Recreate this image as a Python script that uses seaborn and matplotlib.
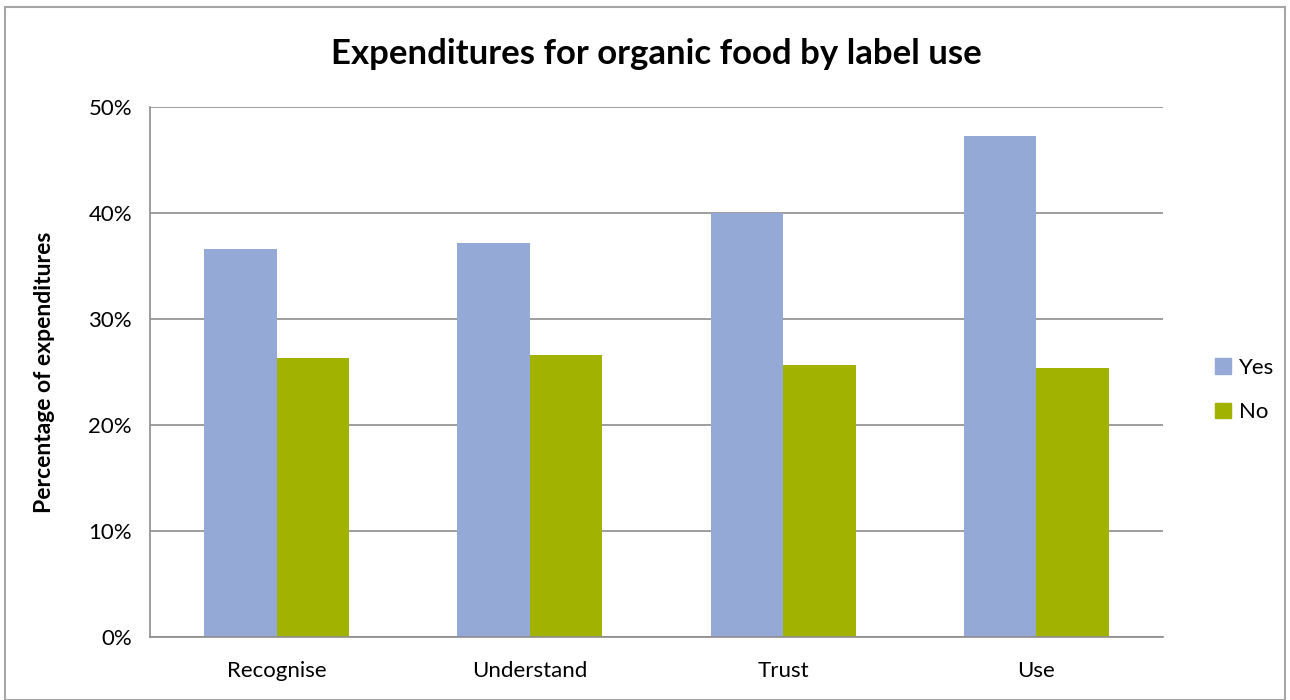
import pandas as pd
import numpy as np
import seaborn as sns
import matplotlib.pyplot as plt
from matplotlib.ticker import PercentFormatter, FixedLocator
from matplotlib.patches import Rectangle

categories = ["Recognise", "Understand", "Trust", "Use"]
yes_vals = [36.6, 37.2, 40.0, 47.3]
no_vals = [26.3, 26.6, 25.7, 25.4]
series = ["Yes", "No"]
colors = ["#95A9D6", "#A2B200"]

df = pd.DataFrame({
    "label": categories * 2,
    "answer": ["Yes"] * 4 + ["No"] * 4,
    "pct": yes_vals + no_vals,
})

sns.set_style("white")
plt.rcParams['font.family'] = ['Lato', 'DejaVu Sans']
plt.rcParams['text.color'] = 'black'
plt.rcParams['xtick.color'] = 'black'
plt.rcParams['ytick.color'] = 'black'
plt.rcParams['axes.labelcolor'] = 'black'

fig = plt.figure(figsize=(12.9, 7), dpi=100)
ax = fig.add_axes([150 / 1290, 1 - 637 / 700, (1163 - 150) / 1290, (637 - 107) / 700])

sns.barplot(data=df, x="label", y="pct", hue="answer", hue_order=series,
            palette=colors, width=0.573, saturation=1, linewidth=0, ax=ax, legend=False)

ax.set_ylim(0, 50)
ax.set_xlim(-0.5, 3.5)
ax.yaxis.set_major_locator(FixedLocator([0, 10, 20, 30, 40, 50]))
ax.yaxis.set_major_formatter(PercentFormatter(decimals=0))
ax.grid(axis="y", color="#8c8c8c", linewidth=1.2)
ax.set_axisbelow(True)

for s in ["top", "right"]:
    ax.spines[s].set_visible(False)
for s in ["left", "bottom"]:
    ax.spines[s].set_color("#8c8c8c")
    ax.spines[s].set_linewidth(1.2)

# category ticks sit between the groups
ax.xaxis.set_minor_locator(FixedLocator([-0.5, 0.5, 1.5, 2.5, 3.5]))
ax.tick_params(axis="x", which="major", length=0, labelsize=16, pad=17)
ax.tick_params(axis="x", which="minor", length=7, color="#8c8c8c", width=1.2, direction="out")
ax.tick_params(axis="y", length=7, color="#8c8c8c", width=1.2, direction="out", labelsize=16, pad=6)

ax.set_xlabel("")
ax.set_ylabel("Percentage of expenditures", fontsize=16.5, fontweight="bold", labelpad=24)

fig.suptitle("Expenditures for organic food by label use", fontsize=25, fontweight="bold",
             x=(150 + 1163) / 2 / 1290, y=1 - 54 / 700, va="center")

handles = [Rectangle((0, 0), 1, 1, color=c) for c in colors]
fig.legend(handles, series, loc="center left", bbox_to_anchor=(1195 / 1290, 1 - 390 / 700),
           frameon=False, fontsize=16, handlelength=0.7, handleheight=0.7,
           handletextpad=0.4, labelspacing=1.1)

# outer chart border
fig.patches.append(Rectangle((5 / 1290, 0), 1280 / 1290, 1 - 7 / 700, transform=fig.transFigure,
                             fill=False, edgecolor="#a6a6a6", linewidth=1.5))

fig.savefig("out.png", dpi=100)
